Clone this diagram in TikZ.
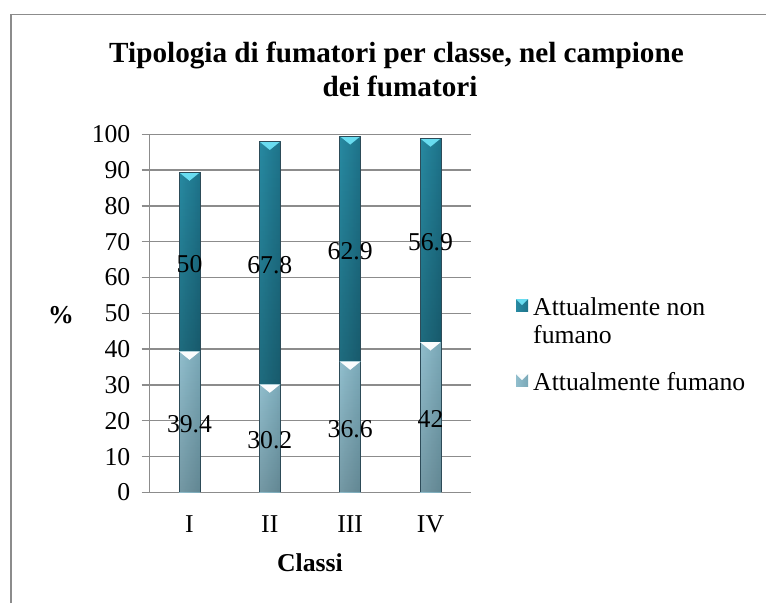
\documentclass[tikz,border=0pt]{standalone}
\usepackage{fontspec}
\setmainfont{Liberation Serif}
\usetikzlibrary{fadings}
\definecolor{gridgray}{RGB}{140,140,140}
\definecolor{hiL}{RGB}{40,138,162}
\definecolor{hiM}{RGB}{72,186,214}
\definecolor{hiR}{RGB}{30,115,138}
\definecolor{hiCap}{RGB}{105,220,240}
\definecolor{loL}{RGB}{145,190,205}
\definecolor{loM}{RGB}{192,228,240}
\definecolor{loR}{RGB}{122,168,183}
\definecolor{loCap}{RGB}{250,252,253}
\definecolor{baredge}{RGB}{45,75,88}
\tikzset{
  declare function={py(\v)=492.4-3.581*\v;},
  gridline/.style={draw=gridgray, line width=1.4pt},
  framegray/.style={draw=gridgray, line width=1.3pt},
  hishade/.style={left color=hiL, middle color=hiM, right color=hiR},
  loshade/.style={left color=loL, middle color=loM, right color=loR},
  lbl/.style={inner sep=0pt, font=\fontsize{25.7}{28.5}\selectfont},
  boldlbl/.style={inner sep=0pt, font=\fontsize{25.7}{28.5}\selectfont\bfseries},
  titlelbl/.style={inner sep=0pt, font=\fontsize{29.2}{34}\selectfont\bfseries},
}
\begin{document}
\begin{tikzpicture}[x=1pt,y=-1pt]
\useasboundingbox (0,0) rectangle (766,603);
\fill[white] (0,0) rectangle (766,603);
% outer chart frame (top and left edges visible)
\draw[framegray] (11,603) -- (11,14.5) -- (766,14.5);
% title
\node[titlelbl, anchor=base] (title1) at (396.5,62) {Tipologia di fumatori per classe, nel campione};
\node[titlelbl, anchor=base] (title2) at (400,96.5) {dei fumatori};
% gridlines and y labels
\foreach \v in {0,10,...,100} {
  \draw[gridline] (141.7,{py(\v)}) -- (470.7,{py(\v)});
  \node[lbl, anchor=east] (y\v) at (130.5,{py(\v)}) {\v};
}
\draw[gridline] (149.3,{py(0)}) -- (149.3,{py(100)});
% bars
\foreach \cx/\lo/\hi/\nm [count=\i] in {189.5/39.4/50/I, 269.8/30.2/67.8/II, 350.2/36.6/62.9/III, 430.5/42/56.9/IV} {
  \pgfmathsetmacro\tot{\lo+\hi}
  % lower segment
  \shade[loshade] (\cx-10.5,{py(0)}) rectangle (\cx+10.5,{py(\lo)});
  \fill[black, fill opacity=.2, path fading=north] (\cx-10.5,{py(0)}) rectangle (\cx+10.5,{py(\lo)});
  \draw[baredge, line width=.8pt] (\cx-10.5,{py(0)}) -- (\cx-10.5,{py(\lo)}) (\cx+10.5,{py(0)}) -- (\cx+10.5,{py(\lo)});
  % upper segment
  \shade[hishade] (\cx-10.5,{py(\lo)}) rectangle (\cx+10.5,{py(\tot)});
  \fill[black, fill opacity=.22, path fading=north] (\cx-10.5,{py(\lo)}) rectangle (\cx+10.5,{py(\tot)});
  \draw[baredge, line width=.8pt] (\cx-10.5,{py(\lo)}) -- (\cx-10.5,{py(\tot)}) (\cx+10.5,{py(\lo)}) -- (\cx+10.5,{py(\tot)});
  % caps
  \fill[loCap] (\cx-10.5,{py(\lo)}) -- (\cx+10.5,{py(\lo)}) -- (\cx,{py(\lo)+8.5}) -- cycle;
  \fill[hiCap] (\cx-10.5,{py(\tot)}) -- (\cx+10.5,{py(\tot)}) -- (\cx,{py(\tot)+8.5}) -- cycle;
  \draw[baredge, line width=.8pt] (\cx-10.5,{py(\tot)}) -- (\cx+10.5,{py(\tot)});
  % data labels
  \node[lbl] (lo\i) at (\cx,{py(\lo/2)+2}) {\lo};
  \node[lbl] (hi\i) at (\cx,{py(\lo+\hi/2)+2}) {\hi};
  % category label
  \node[lbl, anchor=base] (cat\i) at (\cx,532.7) {\nm};
}
% axis titles
\node[boldlbl, anchor=base] (ytitle) at (61,323) {\%};
\node[boldlbl, anchor=base] (xtitle) at (310,571.7) {Classi};
% legend
\shade[hishade] (516,299) rectangle (528,311);
\fill[hiCap] (516,299) -- (528,299) -- (522,305) -- cycle;
\node[lbl, anchor=base west] (leg1a) at (533,315) {Attualmente non};
\node[lbl, anchor=base west] (leg1b) at (533,343.5) {fumano};
\shade[loshade] (516,374) rectangle (528,386);
\fill[loCap] (516,374) -- (528,374) -- (522,380) -- cycle;
\node[lbl, anchor=base west] (leg2) at (533,390) {Attualmente fumano};
\end{tikzpicture}
\end{document}
